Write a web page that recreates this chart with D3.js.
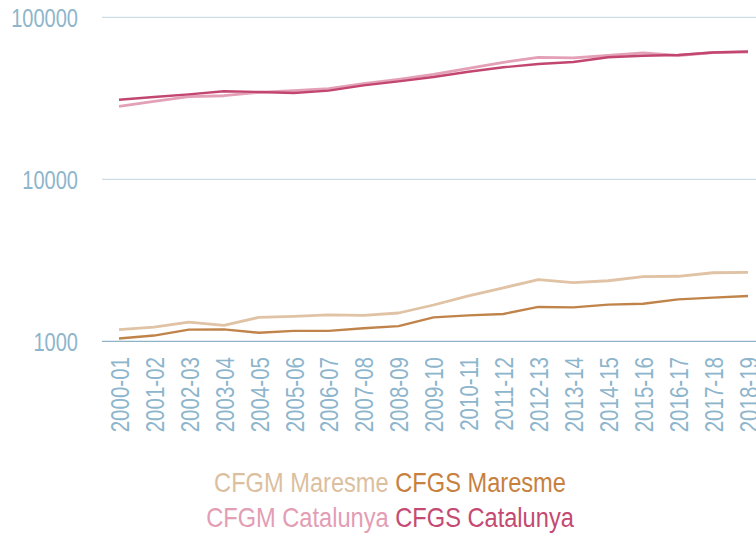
<!DOCTYPE html>
<html>
<head>
<meta charset="utf-8">
<script src="https://cdn.jsdelivr.net/npm/d3@7"></script>
<style>
  html, body { margin: 0; padding: 0; background: #fff; }
  svg { display: block; }
  text { font-family: "Liberation Sans", Arial, Helvetica, sans-serif; }
</style>
</head>
<body>
<script>
// ---- data ----
const categories = ["2000-01","2001-02","2002-03","2003-04","2004-05","2005-06","2006-07","2007-08","2008-09","2009-10","2010-11","2011-12","2012-13","2013-14","2014-15","2015-16","2016-17","2017-18","2018-19"];
const cfgmMaresme   = [1180,1225,1315,1255,1405,1425,1455,1445,1495,1675,1910,2140,2400,2300,2365,2505,2520,2650,2665];
const cfgsMaresme   = [1040,1085,1180,1185,1130,1160,1160,1205,1240,1405,1445,1475,1630,1620,1685,1705,1815,1860,1905];
const cfgmCatalunya = [28200,30300,32350,32800,34450,35250,36250,38900,41400,44500,48450,52750,56650,56250,58100,60400,58100,60650,60900];
const cfgsCatalunya = [31000,32200,33450,34950,34600,34100,35250,38000,40250,42800,46150,49150,51500,52950,56650,57850,58500,60650,61500];
const yTickValues = [1000, 10000, 100000];
const seriesNames = ["CFGM Maresme","CFGS Maresme","CFGM Catalunya","CFGS Catalunya"];
const seriesColors = ["#e0c2a4","#c0844a","#e3a0b6","#c2466f"];
const legendColors = ["#dcbf9f","#c7813f","#e39db4","#c44a73"];

const series = [
  {name: seriesNames[0], values: cfgmMaresme,   color: seriesColors[0], width: 2.8},
  {name: seriesNames[1], values: cfgsMaresme,   color: seriesColors[1], width: 2.4},
  {name: seriesNames[2], values: cfgmCatalunya, color: seriesColors[2], width: 2.8},
  {name: seriesNames[3], values: cfgsCatalunya, color: seriesColors[3], width: 2.4}
];

const W = 756, H = 537;
const svg = d3.select("body").append("svg").attr("width", W).attr("height", H);

const x = d3.scalePoint().domain(categories).range([119, 748]);
const y = d3.scaleLog().domain([1000, 100000]).range([341.3, 17.3]);

const tickColor = "#8db5cc";

// gridlines
svg.append("g").selectAll("line").data(yTickValues).join("line")
  .attr("x1", 102).attr("x2", W)
  .attr("y1", d => y(d)).attr("y2", d => y(d))
  .attr("stroke", d => d === 1000 ? "#8fb3c6" : "#cddde5")
  .attr("stroke-width", 1.3);

// y axis
const yAxis = svg.append("g")
  .call(d3.axisLeft(y).tickValues(yTickValues).tickFormat(d3.format("d")).tickSize(0));
yAxis.select(".domain").remove();
yAxis.selectAll(".tick").attr("transform", null);
yAxis.selectAll(".tick line").remove();
yAxis.selectAll("text")
  .attr("x", null).attr("y", null).attr("dy", null)
  .attr("text-anchor", "end")
  .attr("fill", tickColor)
  .style("font-size", "26px")
  .attr("transform", d => `translate(78,${y(d) + 9.3}) scale(0.77,1)`);

// x axis
const xAxis = svg.append("g")
  .call(d3.axisBottom(x).tickSize(0));
xAxis.select(".domain").remove();
xAxis.selectAll(".tick").attr("transform", null);
xAxis.selectAll(".tick line").remove();
xAxis.selectAll("text")
  .attr("x", null).attr("y", null).attr("dy", null)
  .attr("text-anchor", "end")
  .attr("fill", tickColor)
  .style("font-size", "26px")
  .attr("transform", d => `translate(${x(d) + 9.8},357) rotate(-90) scale(0.79,1)`);

// lines
const line = d3.line().x((d, i) => x(categories[i])).y(d => y(d));
svg.append("g").selectAll("path").data(series).join("path")
  .attr("d", s => line(s.values))
  .attr("fill", "none")
  .attr("stroke", s => s.color)
  .attr("stroke-width", s => s.width)
  .attr("stroke-linejoin", "round");

// legend
const legendRows = [[0, 1], [2, 3]];
const legendY = [492.3, 527];
legendRows.forEach((row, r) => {
  const t = svg.append("text")
    .attr("text-anchor", "middle")
    .style("font-size", "27.5px")
    .attr("transform", `translate(390,${legendY[r]}) scale(0.86,1)`);
  row.forEach((k, j) => {
    t.append("tspan")
      .attr("fill", legendColors[k])
      .text((j > 0 ? " " : "") + seriesNames[k]);
  });
});
</script>
</body>
</html>
